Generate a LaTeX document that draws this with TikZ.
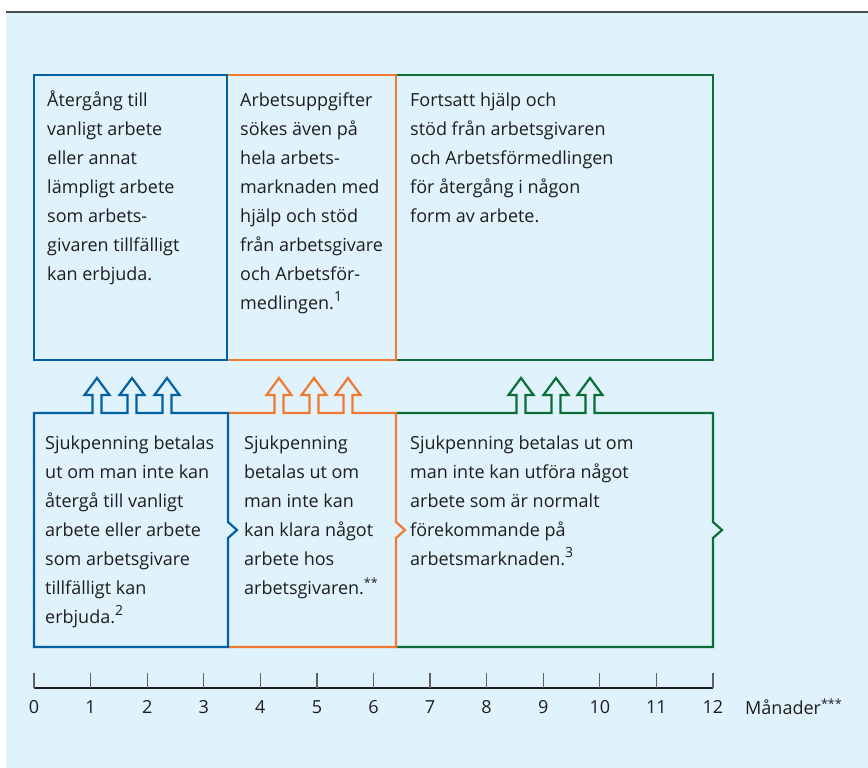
\documentclass[tikz,border=0pt]{standalone}
\usepackage{fontspec}
\setmainfont{Open Sans}

\definecolor{bgblue}{HTML}{E0F2FC}
\definecolor{fkblue}{HTML}{0061A3}
\definecolor{fkorange}{HTML}{F07A32}
\definecolor{fkgreen}{HTML}{0B6E37}
\definecolor{rulegray}{HTML}{4A4A4A}
\definecolor{txt}{HTML}{1E1E1E}

% footnote marks, set larger than \textsuperscript
\newcommand{\fnmark}[1]{\raisebox{0.42em}{\fontsize{14}{14}\selectfont #1}}

\tikzset{
  frame/.style={line width=2.2pt, line join=miter},
  % first line carries a strut, so the node top sits 0.7\baselineskip above the first baseline
  txtbox/.style={anchor=north west, yshift=20.3pt, inner sep=0pt, align=left, text=txt,
    font=\fontsize{18}{29}\selectfont},
  scalelabel/.style={inner sep=0pt, text=txt, font=\fontsize{18}{20}\selectfont},
}

\begin{document}
\begin{tikzpicture}[x=1pt,y=-1pt]
        \useasboundingbox (0,0) rectangle (868,768);
        \fill[bgblue] (6,12) rectangle (868,768);
        \draw[rulegray, line width=2pt] (6,12) -- (868,12);

        % upper row: what happens in each period
        \draw[frame, fkgreen] (396,75) -- (713,75) -- (713,360) -- (396,360);
        \draw[frame, fkorange] (227,75) -- (396,75) -- (396,360) -- (227,360);
        \draw[frame, fkblue] (34,75) rectangle (227,360);

        % lower row: sickness benefit, with the hollow arrows on top
        \draw[frame, fkgreen] (396,413)
            foreach \c in {521,556,590} { -- (\c-4.5,413) -- (\c-4.5,395) -- (\c-12.5,395)
                -- (\c,378) -- (\c+12.5,395) -- (\c+4.5,395) -- (\c+4.5,413) }
            -- (713,413) -- (713,522) -- (722,530) -- (713,538) -- (713,647) -- (396,647);
        \draw[frame, fkorange] (228,413)
            foreach \c in {279,314,348} { -- (\c-4.5,413) -- (\c-4.5,395) -- (\c-12.5,395)
                -- (\c,378) -- (\c+12.5,395) -- (\c+4.5,395) -- (\c+4.5,413) }
            -- (396,413) -- (396,522) -- (405,530) -- (396,538) -- (396,647) -- (228,647);
        \draw[frame, fkblue] (34,647) -- (34,413)
            foreach \c in {97,132,167} { -- (\c-4.5,413) -- (\c-4.5,395) -- (\c-12.5,395)
                -- (\c,378) -- (\c+12.5,395) -- (\c+4.5,395) -- (\c+4.5,413) }
            -- (228,413) -- (228,522) -- (237,530) -- (228,538) -- (228,647) -- cycle;

        \node[txtbox] (topblue) at (47,106) {\strut Återgång till\\vanligt arbete\\eller annat\\lämpligt arbete\\som arbets-\\givaren tillfälligt\\kan erbjuda.};
        \node[txtbox] (toporange) at (240,106) {\strut Arbetsuppgifter\\sökes även på\\hela arbets-\\marknaden med\\hjälp och stöd\\från arbetsgivare\\och Arbetsför-\\medlingen.\fnmark{1}};
        \node[txtbox] (topgreen) at (410,106) {\strut Fortsatt hjälp och\\stöd från arbetsgivaren\\och Arbetsförmedlingen\\för återgång i någon\\form av arbete.};

        \node[txtbox] (botblue) at (45,449) {\strut Sjukpenning betalas\\ut om man inte kan\\återgå till vanligt\\arbete eller arbete\\som arbetsgivare\\tillfälligt kan\\erbjuda.\fnmark{2}};
        \node[txtbox] (botorange) at (244,449) {\strut Sjukpenning\\betalas ut om\\man inte kan\\kan klara något\\arbete hos\\arbetsgivaren.\textsuperscript{**}};
        \node[txtbox] (botgreen) at (410,449) {\strut Sjukpenning betalas ut om\\man inte kan utföra något\\arbete som är normalt\\förekommande på\\arbetsmarknaden.\fnmark{3}};

        % month scale
        \draw[txt, line width=1.2pt] (34,688) -- (713,688);
        \foreach \m in {0,...,12} {
            \draw[txt!70, line width=1.2pt] (34+56.58*\m,673) -- (34+56.58*\m,688);
            \node[scalelabel] (m\m) at (34+56.58*\m,707) {\m};
        }
        \node[scalelabel, anchor=west] (unit) at (745,707) {Månader\textsuperscript{***}};
    \end{tikzpicture}
\end{document}
